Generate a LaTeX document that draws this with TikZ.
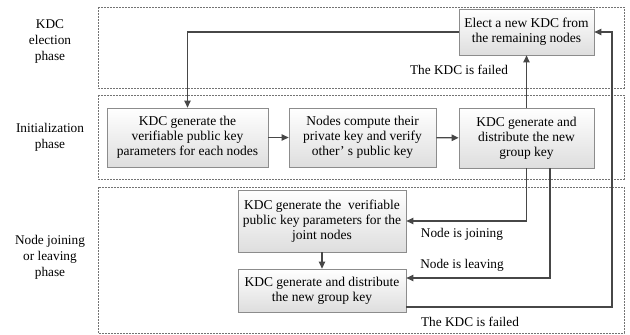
\documentclass[tikz,border=0pt]{standalone}
\usepackage{fontspec}
\setmainfont{Liberation Serif}
\usetikzlibrary{arrows.meta}
\begin{document}
\begin{tikzpicture}[x=1pt,y=-1pt,
  phase/.style={draw=black!55, dash pattern=on 2pt off 1pt, line width=0.7pt},
  box/.style={draw=black!45, top color=white, bottom color=black!13, align=center,
    font=\fontsize{13.5}{15}\selectfont, inner sep=0pt, line width=0.8pt},
  conn/.style={draw=black!72, line width=1.2pt, -{Triangle[length=7pt,width=6.5pt]}},
  lbl/.style={font=\fontsize{13.3}{16}\selectfont, align=center, inner sep=0pt}]
\useasboundingbox (0,0) rectangle (630,335);
% phase frames
\draw[phase] (98,7) rectangle (624,88);
\draw[phase] (98,95) rectangle (624,179);
\draw[phase] (98,187) rectangle (624,333);
% phase labels
\node[lbl] (p1) at (50,42) {KDC\\election\\phase};
\node[lbl] (p2) at (50,137) {Initialization\\phase};
\node[lbl] (p3) at (50,257) {Node joining\\or leaving\\phase};
% boxes
\node[box, minimum width=135pt, minimum height=46pt] (elect) at (526.5,32) {Elect a new KDC from\\the remaining nodes};
\node[box, minimum width=161pt, minimum height=59pt] (b1) at (187.5,137.5) {KDC generate the\\verifiable public key\\parameters for each nodes};
\node[box, minimum width=147pt, minimum height=59pt] (b2) at (362.5,137.5) {Nodes compute their\\private key and verify\\other’\ s public key};
\node[box, minimum width=135pt, minimum height=60pt] (b3) at (526.5,138) {KDC generate and\\distribute the new\\group key};
\node[box, minimum width=168pt, minimum height=62pt] (j1) at (322,221) {KDC generate the\ \ verifiable\\public key parameters for the\\joint nodes};
\node[box, minimum width=168pt, minimum height=43pt] (j2) at (322,290.5) {KDC generate and distribute\\the new group key};
% connectors
\coordinate (rt) at (612,32);
\draw[conn] (elect.west) -| (b1.north);
\draw[conn] (b1) -- (b2);
\draw[conn] (b2) -- (b3);
\draw[conn] (b3.north) -- (elect.south);
\draw[conn] (b3.south) |- (j1.east);
\draw[conn] ([xshift=23.5pt]b3.south) |- ([yshift=12.5pt]j2.east);
\draw[conn] (j1) -- (j2);
\draw[conn] ([yshift=-16.5pt]j2.east) -| (rt) -- (elect.east);
% connector labels
\node[lbl] (f1) at (459,70) {The KDC is failed};
\node[lbl] (nj) at (462,234) {Node is joining};
\node[lbl] (nl) at (462,265) {Node is leaving};
\node[lbl] (f2) at (470,322) {The KDC is failed};
\end{tikzpicture}
\end{document}
